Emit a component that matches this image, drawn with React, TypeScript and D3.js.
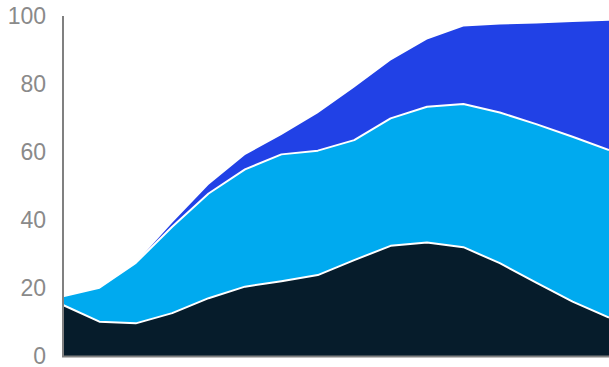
import React from "react";
import * as d3 from "d3";

const periods = ["1","2","3","4","5","6","7","8","9","10","11","12","13","14","15","16"];
const seriesBottom = [15.0, 10.1, 9.6, 12.6, 17.0, 20.4, 22.0, 23.8, 28.2, 32.4, 33.4, 32.0, 27.3, 21.6, 16.0, 11.3];
const seriesMiddle = [2.6, 10.0, 17.8, 25.4, 30.8, 34.5, 37.3, 36.6, 35.3, 37.5, 39.9, 42.1, 44.3, 46.6, 48.5, 49.3];
const seriesTop = [0, 0, 0, 1.2, 2.6, 4.2, 5.7, 11.0, 15.5, 17.0, 19.8, 22.8, 25.9, 29.6, 33.7, 38.0];
const yTicks = [0, 20, 40, 60, 80, 100];
const colors = ["#061c2b", "#00aaef", "#2141e6"];

export default function App() {
  const W = 609, H = 367;
  const x = d3.scalePoint<string>().domain(periods).range([63, 609]);
  const y = d3.scaleLinear().domain([0, 100]).range([356, 16]);
  const rows = periods.map((p, i) => ({ p, a: seriesBottom[i], b: seriesMiddle[i], c: seriesTop[i] }));
  const stack = d3.stack<any>().keys(["a", "b", "c"]);
  const layers = stack(rows);
  const area = d3.area<any>()
    .x((d) => x(d.data.p) as number)
    .y0((d) => y(d[0]))
    .y1((d) => y(d[1]));
  const line = d3.line<any>()
    .x((d) => x(d.data.p) as number)
    .y((d) => y(d[1]));
  return (
    <svg width={W} height={H} style={{ position: "absolute", left: 0, top: 0, display: "block" }}>
      {layers.map((l, i) => (
        <path key={"a" + i} d={area(l) || ""} fill={colors[i]} />
      ))}
      {layers.slice(0, 2).map((l, i) => (
        <path key={"l" + i} d={line(l) || ""} fill="none" stroke="#ffffff" strokeWidth={2} strokeLinejoin="round" />
      ))}
      <line x1={63} x2={63} y1={16} y2={357} stroke="#808080" strokeWidth={2} />
      <line x1={62} x2={609} y1={356.5} y2={356.5} stroke="#808080" strokeWidth={2} />
      {yTicks.map((t) => (
        <text key={t} x={46} y={y(t)} dy="0.36em" textAnchor="end"
          fontFamily="'Liberation Sans', Arial, sans-serif" fontSize={23} fill="#8a8a8a">
          {t}
        </text>
      ))}
    </svg>
  );
}
